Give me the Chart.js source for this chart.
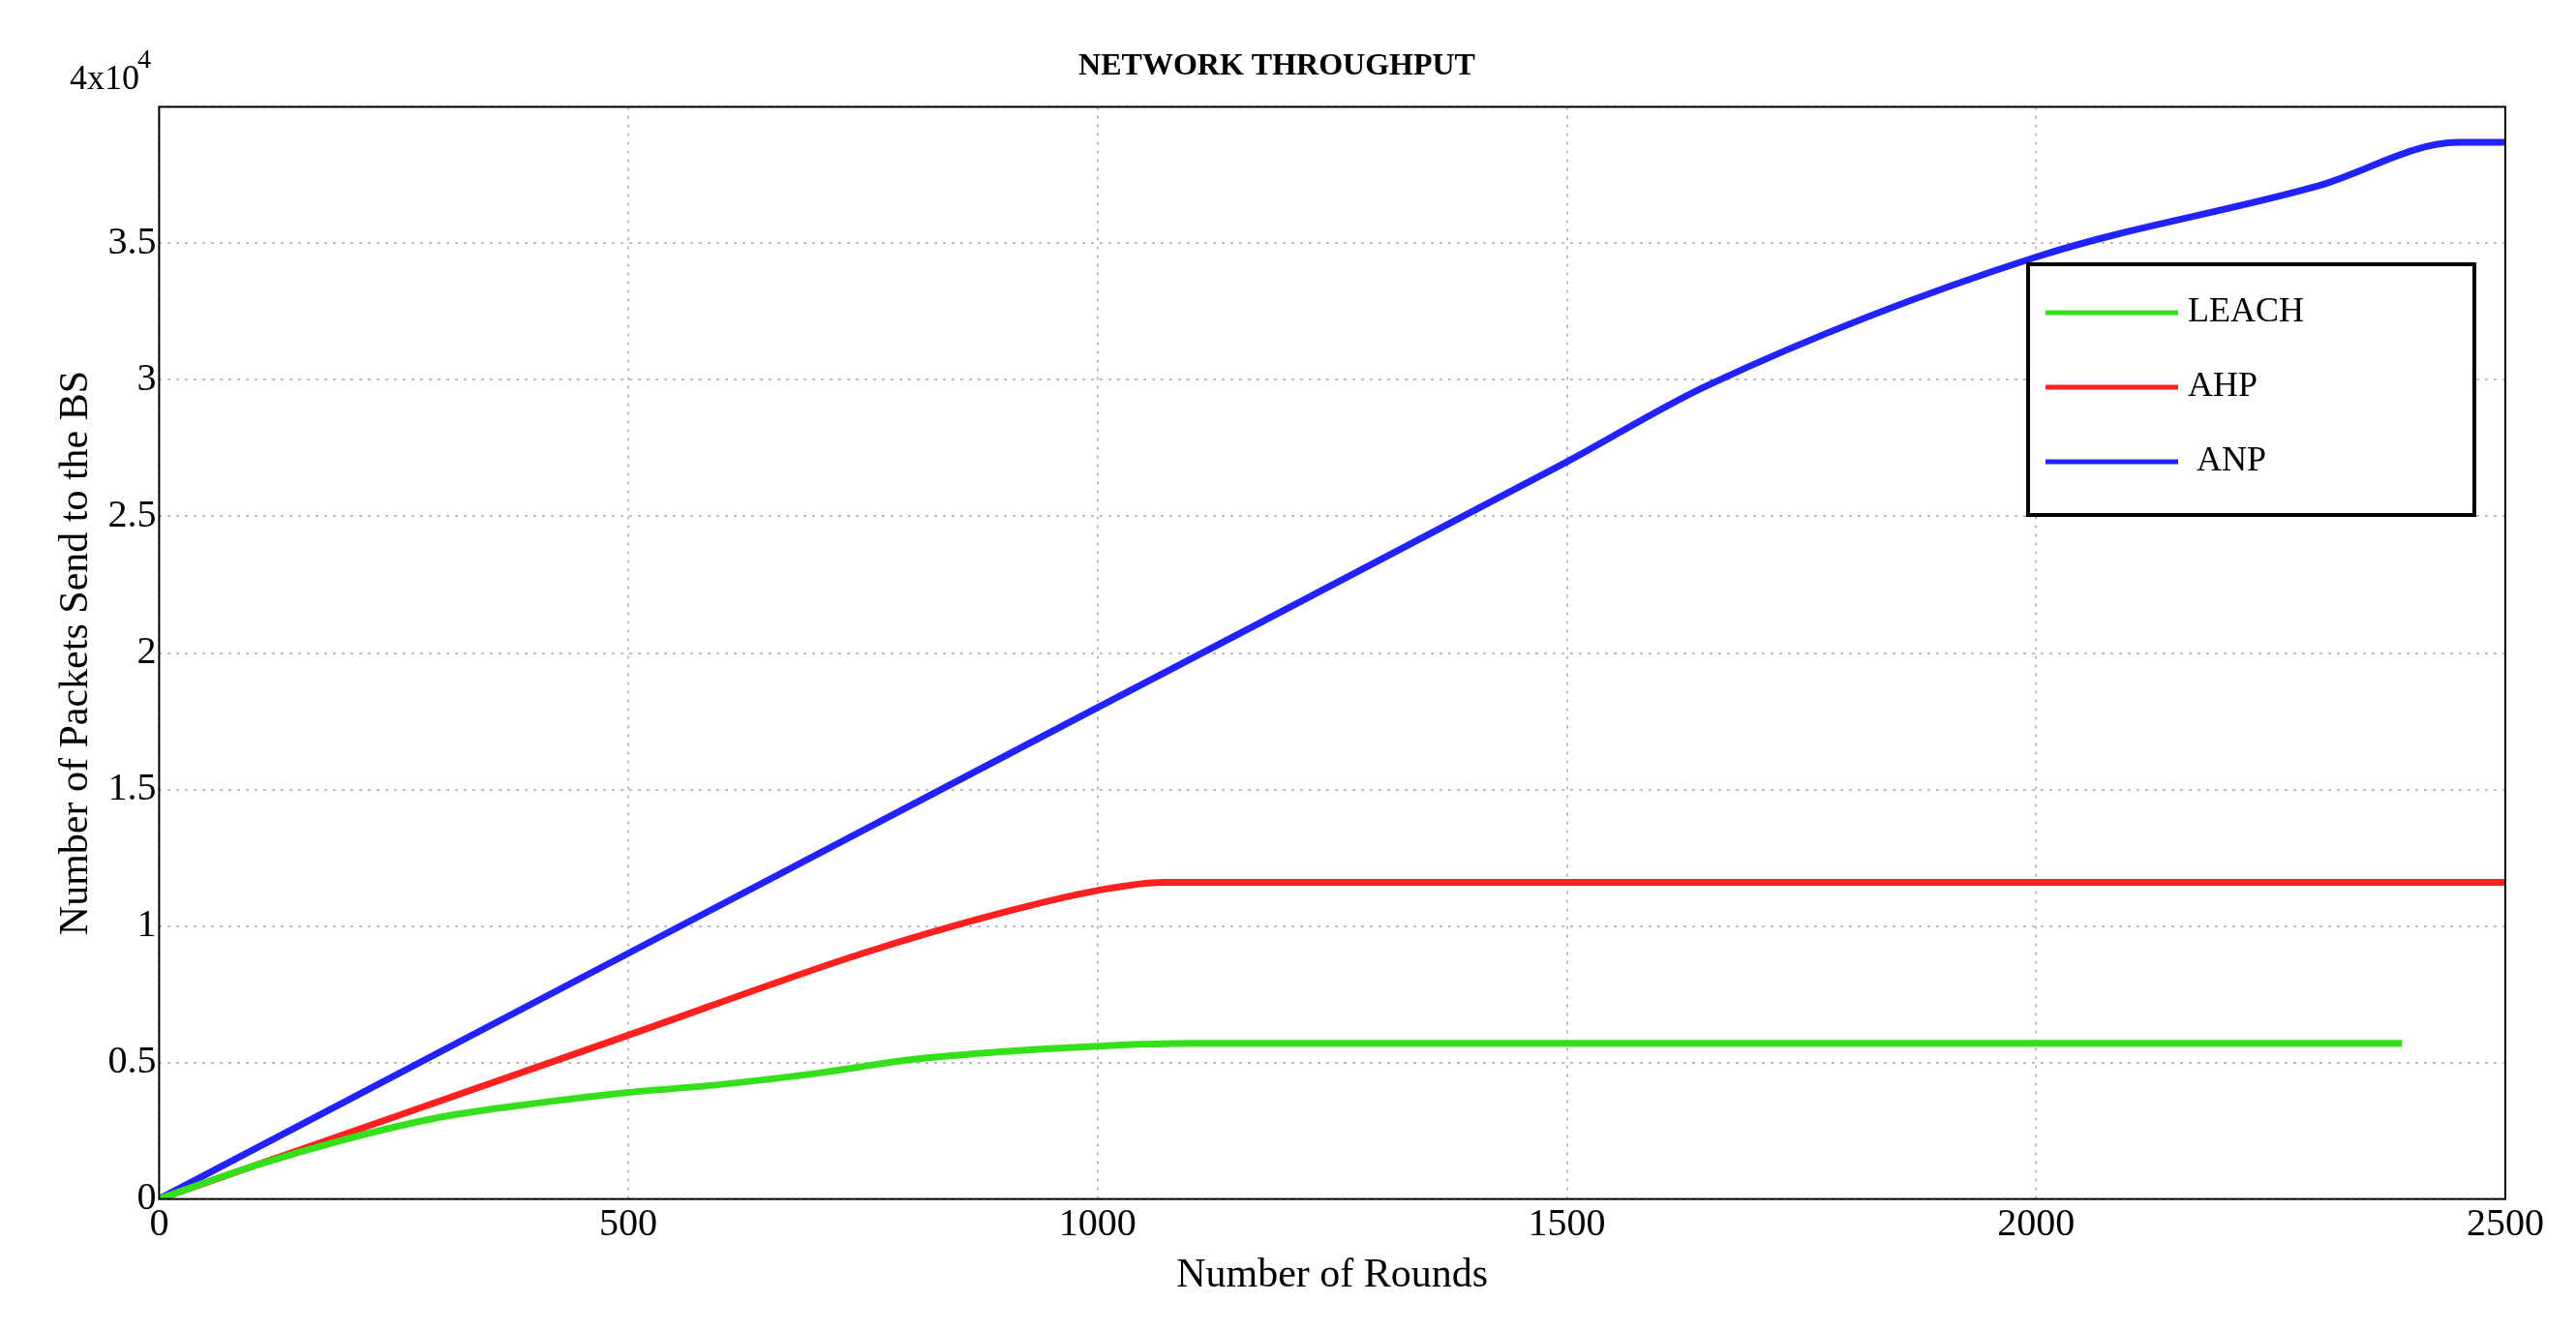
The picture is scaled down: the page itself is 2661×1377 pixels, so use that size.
<!DOCTYPE html>
<html>
<head>
<meta charset="utf-8">
<script src="https://cdn.jsdelivr.net/npm/chart.js@4.4.0/dist/chart.umd.min.js"></script>
<style>
html,body{margin:0;padding:0;background:#fff;}
#wrap{width:2661px;height:1377px;position:relative;}
</style>
</head>
<body>
<div id="wrap"><canvas id="chart" width="2661" height="1377"></canvas></div>
<script>
const leachX = [0,100,200,300,400,500,600,700,800,900,1000,1100,2390];
const leachY = [0,1200,2200,3000,3500,3900,4200,4600,5100,5400,5600,5700,5700];
const ahpX = [0,250,500,750,900,1000,1070,2500];
const ahpY = [0,3000,6000,9000,10500,11300,11600,11600];
const anpX = [0,500,1000,1500,1650,2000,2300,2450,2500];
const anpY = [0,9000,18000,27000,29800,34500,37100,38700,38700];
const yTicks = [0,5000,10000,15000,20000,25000,30000,35000,40000];

const pts = (xs,ys)=>xs.map((x,i)=>({x, y: ys[i]}));
const serif = "'Liberation Serif', 'DejaVu Serif', serif";

const extras = {
  id: "extras",
  afterDraw(c){
    const ctx = c.ctx, a = c.chartArea;
    ctx.save();
    ctx.strokeStyle = "#000"; ctx.lineWidth = 2;
    ctx.strokeRect(a.left, a.top, a.right-a.left, a.bottom-a.top);
    ctx.fillStyle = "#000";
    ctx.font = "36px " + serif;
    ctx.textBaseline = "alphabetic"; ctx.textAlign = "left";
    ctx.fillText("4x10", 72, 92);
    ctx.font = "28px " + serif;
    ctx.fillText("4", 142, 70);
    const lx = 2095, ly = 273, lw = 461, lh = 259;
    ctx.fillStyle = "#fff"; ctx.fillRect(lx, ly, lw, lh);
    ctx.lineWidth = 4; ctx.strokeStyle = "#000"; ctx.strokeRect(lx, ly, lw, lh);
    const items = [["LEACH","#33e01a"],["AHP","#ff2020"],[" ANP","#2222ff"]];
    ctx.font = "36px " + serif; ctx.textBaseline = "middle";
    items.forEach(([t,col],i)=>{
      const y = ly + 50 + i*77;
      ctx.strokeStyle = col; ctx.lineWidth = 5;
      ctx.beginPath(); ctx.moveTo(lx+18, y); ctx.lineTo(lx+155, y); ctx.stroke();
      ctx.fillStyle = "#000"; ctx.fillText(t, lx+165, y);
    });
    ctx.restore();
  }
};

new Chart(document.getElementById("chart"), {
  type: "line",
  data: {
    datasets: [
      { label:"LEACH", data: pts(leachX,leachY), borderColor:"#33e01a", borderWidth:7, pointRadius:0, cubicInterpolationMode:"monotone" },
      { label:"AHP", data: pts(ahpX,ahpY), borderColor:"#ff2020", borderWidth:7, pointRadius:0, cubicInterpolationMode:"monotone" },
      { label:"ANP", data: pts(anpX,anpY), borderColor:"#2222ff", borderWidth:7, pointRadius:0, cubicInterpolationMode:"monotone" }
    ]
  },
  plugins: [extras],
  options: {
    responsive:false, animation:false,
    layout:{ padding:{ left:50, right:73, top:20, bottom:30 } },
    plugins:{
      legend:{ display:false },
      title:{ display:true, text:"NETWORK THROUGHPUT", color:"#000",
        font:{ family: serif, size:32, weight:"bold" }, padding:{ top:30, bottom:22 } }
    },
    scales:{
      x:{ type:"linear", min:0, max:2500,
        ticks:{ stepSize:500, color:"#000", font:{ family: serif, size:40 }, callback:(v)=>String(v) },
        grid:{ color:"#bbb", lineWidth:2, tickLength:0 },
        border:{ dash:[3,6], display:false },
        title:{ display:true, text:"Number of Rounds", color:"#000", font:{ family: serif, size:42 }, padding:{ top:0 } }
      },
      y:{ min:0, max:40000,
        afterBuildTicks:(s)=>{ s.ticks = yTicks.map(v=>({value:v})); },
        ticks:{ color:"#000", font:{ family: serif, size:40 },
          callback:(v)=> v===40000 ? "" : String(v/10000) },
        grid:{ color:"#bbb", lineWidth:2, tickLength:0 },
        border:{ dash:[3,6], display:false },
        title:{ display:true, text:"Number of Packets Send to the BS", color:"#000", font:{ family: serif, size:42 }, padding:{ bottom:4 } }
      }
    }
  }
});
</script>
</body>
</html>
